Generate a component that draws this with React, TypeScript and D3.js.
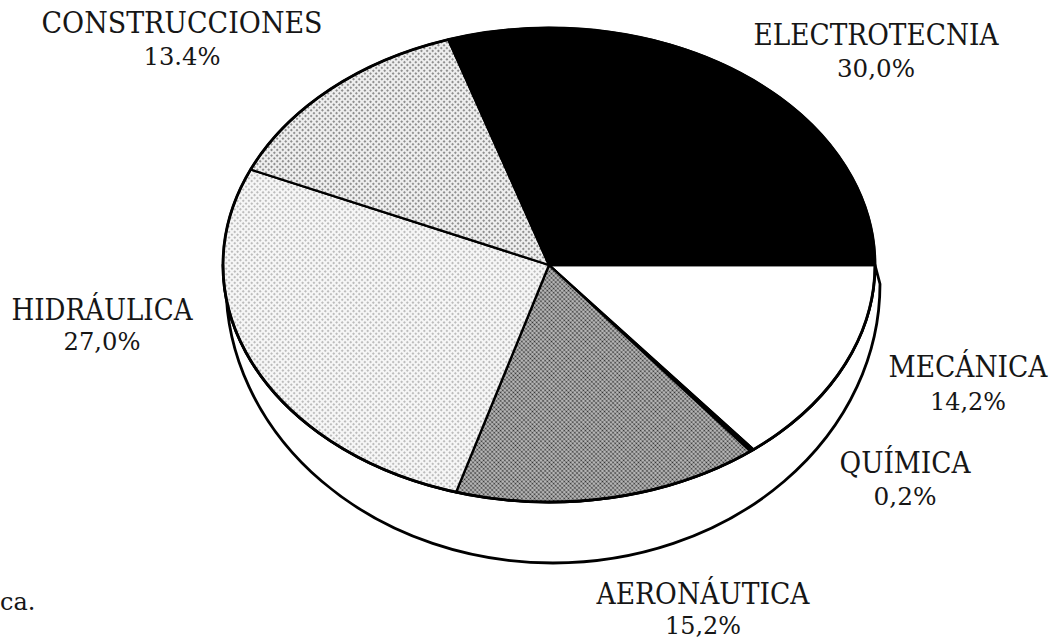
import { useEffect, useRef } from 'react'
import * as d3 from 'd3'

// slices, clockwise from 3 o'clock
const CATEGORIES = ['MECÁNICA', 'QUÍMICA', 'AERONÁUTICA', 'HIDRÁULICA', 'CONSTRUCCIONES', 'ELECTROTECNIA']
const SHARES = [14.2, 0.2, 15.2, 27.0, 13.4, 30.0]
const SHARE_LABELS = ['14,2%', '0,2%', '15,2%', '27,0%', '13.4%', '30,0%']

// hand placed labels, as in the print
const LABEL_LAYOUT: Record<string, { x: number; y: number; gap: number; w: number; pw: number }> = {
  'MECÁNICA': { x: 968, y: 377, gap: 33, w: 159, pw: 76 },
  'QUÍMICA': { x: 905, y: 473, gap: 32, w: 131, pw: 63 },
  'AERONÁUTICA': { x: 703, y: 604, gap: 30, w: 213, pw: 76 },
  'HIDRÁULICA': { x: 102, y: 320, gap: 30, w: 181, pw: 77 },
  'CONSTRUCCIONES': { x: 182, y: 33, gap: 32, w: 281, pw: 77 },
  'ELECTROTECNIA': { x: 876, y: 45, gap: 32, w: 245, pw: 78 },
}

const FILLS = ['#fff', '#000', 'url(#dotDark)', 'url(#dotLighter)', 'url(#dotLight)', '#000']

export default function App() {
  const ref = useRef<SVGSVGElement>(null)

  useEffect(() => {
    if (!ref.current) return
    const width = 1064
    const height = 639
    const svg = d3.select(ref.current)
    svg.selectAll('*').remove()
    svg.attr('width', width).attr('height', height).attr('viewBox', `0 0 ${width} ${height}`)

    // halftone patterns
    const defs = svg.append('defs')
    const dots = (id: string, size: number, bg: string, fg: string, r: number) => {
      const p = defs.append('pattern')
        .attr('id', id)
        .attr('patternUnits', 'userSpaceOnUse')
        .attr('width', size).attr('height', size)
        .attr('patternTransform', 'rotate(45)')
      p.append('rect').attr('width', size).attr('height', size).attr('fill', bg)
      p.append('circle').attr('cx', size / 2).attr('cy', size / 2).attr('r', r).attr('fill', fg)
    }
    dots('dotDark', 3, '#c4c4c4', '#2e2e2e', 1.05)
    dots('dotLight', 4, '#eeeeee', '#6f6f6f', 1.0)
    dots('dotLighter', 4, '#f6f6f6', '#a4a4a4', 0.95)

    // top ellipse and the side of the disc
    const cx = 549, cy = 265, rx = 326, ry = 237
    const bcx = 553, bcy = 284, brx = 327, bry = 279

    svg.append('path')
      .attr('d', `M${cx + rx},${cy}L${bcx + brx},${bcy}A${brx},${bry} 0 0 1 ${bcx - brx},${bcy}L${cx - rx},${cy}A${rx},${ry} 0 0 0 ${cx + rx},${cy}Z`)
      .attr('fill', '#fff')
      .attr('stroke', '#000')
      .attr('stroke-width', 2.8)
      .attr('stroke-linejoin', 'round')

    const pie = d3.pie<number>()
      .sort(null)
      .startAngle(Math.PI / 2)
      .endAngle(Math.PI / 2 + 2 * Math.PI)
    const arcs = pie(SHARES)

    const pt = (a: number) => `${cx + rx * Math.sin(a)},${cy - ry * Math.cos(a)}`
    const slicePath = (a0: number, a1: number) => {
      const large = a1 - a0 > Math.PI ? 1 : 0
      return `M${cx},${cy}L${pt(a0)}A${rx},${ry} 0 ${large} 1 ${pt(a1)}Z`
    }

    svg.append('g')
      .selectAll('path')
      .data(arcs)
      .join('path')
      .attr('d', d => slicePath(d.startAngle, d.endAngle))
      .attr('fill', (_, i) => FILLS[i])
      .attr('stroke', '#000')
      .attr('stroke-width', 2.3)
      .attr('stroke-linejoin', 'round')

    svg.append('ellipse')
      .attr('cx', cx).attr('cy', cy).attr('rx', rx).attr('ry', ry)
      .attr('fill', 'none')
      .attr('stroke', '#000')
      .attr('stroke-width', 2.8)

    // labels
    const font = "'DejaVu Serif', serif"
    const lg = svg.append('g')
      .attr('font-family', font)
      .attr('fill', '#161616')
      .attr('text-anchor', 'middle')

    CATEGORIES.forEach((c, i) => {
      const l = LABEL_LAYOUT[c]
      lg.append('text')
        .attr('x', l.x).attr('y', l.y)
        .attr('font-size', 29)
        .attr('textLength', l.w)
        .attr('lengthAdjust', 'spacingAndGlyphs')
        .text(c)
      lg.append('text')
        .attr('x', l.x).attr('y', l.y + l.gap)
        .attr('font-size', 25)
        .attr('textLength', l.pw)
        .attr('lengthAdjust', 'spacingAndGlyphs')
        .text(SHARE_LABELS[i])
    })

    // tail of the caption line, cut by the page edge
    svg.append('text')
      .attr('x', 0).attr('y', 610)
      .attr('font-family', font)
      .attr('font-size', 24)
      .attr('fill', '#161616')
      .text('ca.')
  }, [])

  return (
    <div style={{ position: 'absolute', left: 0, top: 0, background: '#fff' }}>
      <svg ref={ref} style={{ display: 'block' }} />
    </div>
  )
}
